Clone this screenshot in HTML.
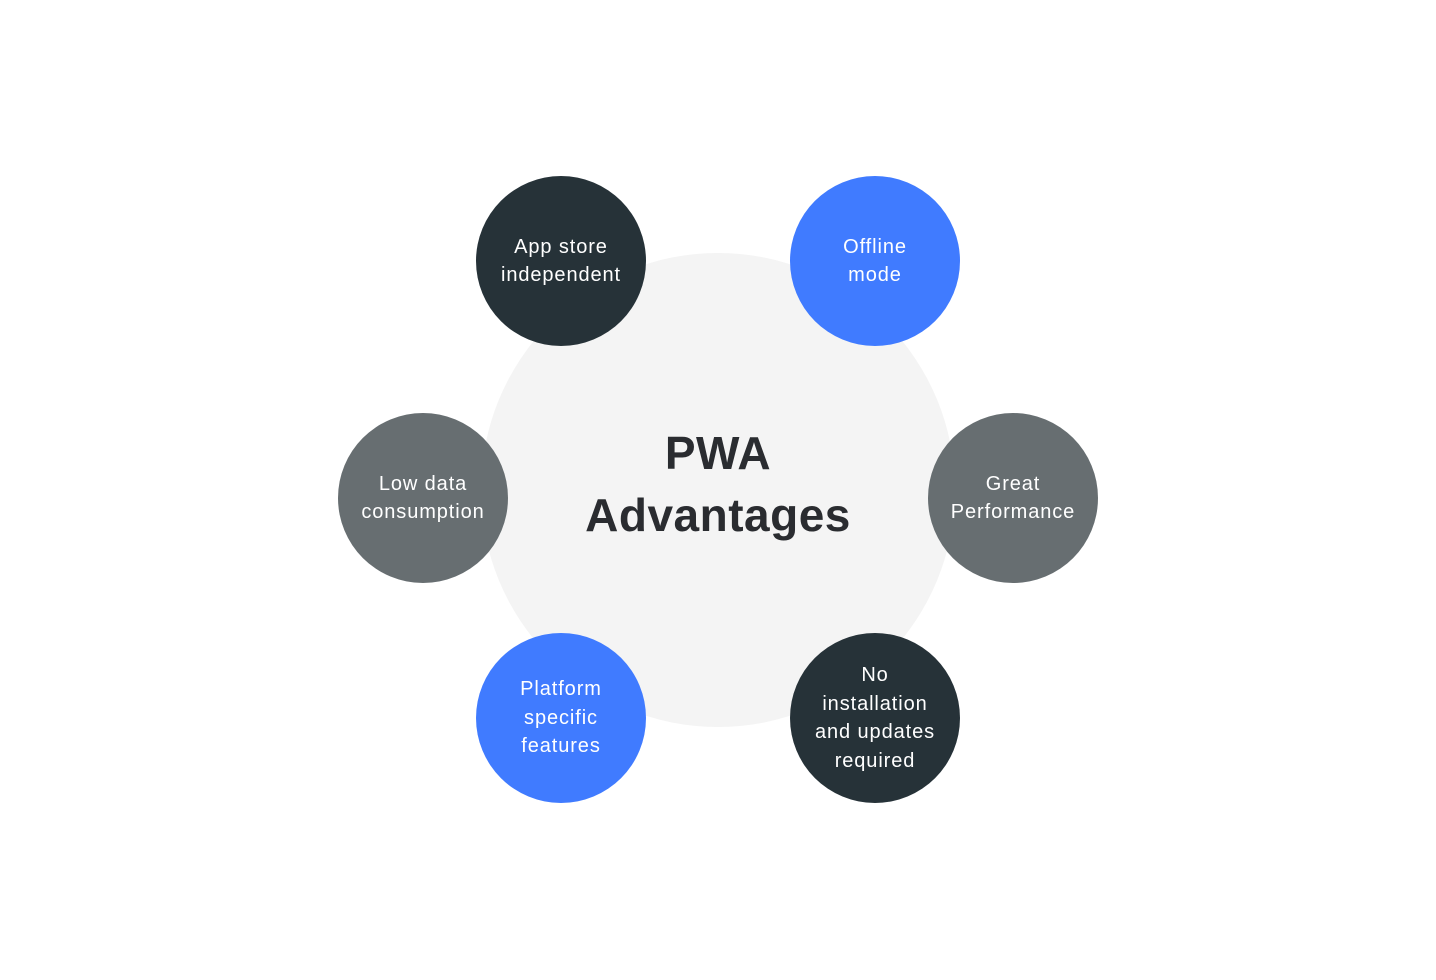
<!DOCTYPE html>
<html><head><style>
html,body{margin:0;padding:0;background:#fff;}
body{width:1436px;height:980px;position:relative;overflow:hidden;font-family:"Liberation Sans",sans-serif;}
.c{position:absolute;border-radius:50%;display:flex;align-items:center;justify-content:center;text-align:center;color:#fff;font-size:20px;letter-spacing:0.9px;line-height:28.5px;}
.s{width:170px;height:170px;}
.d{background:#263238;}
.b{background:#407bff;}
.g{background:#676e71;}
.big{left:481px;top:247px;width:474px;height:474px;background:transparent;color:#2a2c30;font-weight:bold;font-size:46px;letter-spacing:0.5px;line-height:62px;}
.bg{position:absolute;left:481px;top:253px;width:474px;height:474px;border-radius:50%;background:#f4f4f4;}
</style></head><body>
<div class="bg"></div>
<div class="c big">PWA<br>Advantages</div>
<div class="c s d" style="left:476px;top:176px;">App store<br>independent</div>
<div class="c s b" style="left:790px;top:176px;">Offline<br>mode</div>
<div class="c s g" style="left:338px;top:413px;">Low data<br>consumption</div>
<div class="c s g" style="left:928px;top:413px;">Great<br>Performance</div>
<div class="c s b" style="left:476px;top:633px;">Platform<br>specific<br>features</div>
<div class="c s d" style="left:790px;top:633px;">No<br>installation<br>and updates<br>required</div>
</body></html>
